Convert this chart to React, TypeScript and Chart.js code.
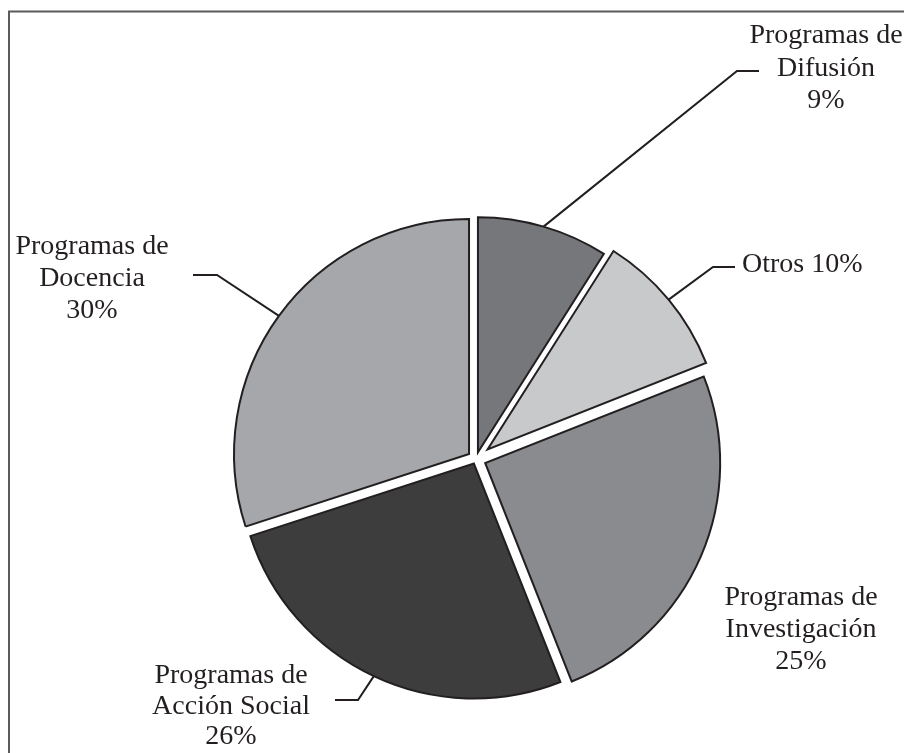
import React, { useEffect, useRef } from "react";
import { Chart, registerables } from "chart.js";

Chart.register(...registerables);

// ---- data ----
const CATEGORIES = [
  "Programas de Difusión",
  "Otros",
  "Programas de Investigación",
  "Programas de Acción Social",
  "Programas de Docencia",
];
const SHARES = [9, 10, 25, 26, 30];

// ---- styles ----
const SLICE_COLORS = ["#76777b", "#c8c9cb", "#8a8b8f", "#3d3d3e", "#a6a7ab"];
const EXPLODE = [7, 15, 10, 5, 8.6];
const INK = "#231f20";
const FONT = '28px "Liberation Serif", "Times New Roman", serif';

type LabelLayout = {
  x: number;
  y: number;
  lh: number;
  align: CanvasTextAlign;
  elbow?: [number, number];
  end?: [number, number];
};
const LABEL_LAYOUT: LabelLayout[] = [
  { x: 826, y: 43, lh: 32.5, align: "center", elbow: [737, 71], end: [759, 71] },
  { x: 742, y: 272, lh: 32, align: "left", elbow: [713, 267], end: [735, 267] },
  { x: 801, y: 605, lh: 32, align: "center" },
  { x: 231, y: 683, lh: 30.5, align: "center", elbow: [358, 700], end: [335, 700] },
  { x: 92, y: 254, lh: 32, align: "center", elbow: [217, 275], end: [193, 275] },
];

function labelLines(cat: string, v: number): string[] {
  const prefix = "Programas de ";
  if (cat.startsWith(prefix)) return ["Programas de", cat.slice(prefix.length), `${v}%`];
  return [`${cat} ${v}%`];
}

const explodePlugin = {
  id: "explode",
  afterDatasetsUpdate(chart: any) {
    const meta = chart.getDatasetMeta(0);
    meta.data.forEach((arc: any, i: number) => {
      const mid = (arc.startAngle + arc.endAngle) / 2;
      const d = EXPLODE[i] || 0;
      arc.x += Math.cos(mid) * d;
      arc.y += Math.sin(mid) * d;
    });
  },
};

const annotatePlugin = {
  id: "annotate",
  afterDraw(chart: any) {
    const ctx: CanvasRenderingContext2D = chart.ctx;
    ctx.save();
    // frame (top + left)
    ctx.strokeStyle = "#5b5b5b";
    ctx.lineWidth = 2;
    ctx.beginPath();
    ctx.moveTo(9, 753);
    ctx.lineTo(9, 11.5);
    ctx.lineTo(904, 11.5);
    ctx.stroke();

    const meta = chart.getDatasetMeta(0);
    meta.data.forEach((arc: any, i: number) => {
      const L = LABEL_LAYOUT[i];
      if (!L) return;
      if (L.elbow && L.end) {
        const mid = (arc.startAngle + arc.endAngle) / 2;
        const sx = arc.x + Math.cos(mid) * arc.outerRadius;
        const sy = arc.y + Math.sin(mid) * arc.outerRadius;
        ctx.strokeStyle = INK;
        ctx.lineWidth = 2;
        ctx.lineJoin = "miter";
        ctx.beginPath();
        ctx.moveTo(sx, sy);
        ctx.lineTo(L.elbow[0], L.elbow[1]);
        ctx.lineTo(L.end[0], L.end[1]);
        ctx.stroke();
      }
      ctx.fillStyle = INK;
      ctx.font = FONT;
      ctx.textAlign = L.align;
      ctx.textBaseline = "alphabetic";
      labelLines(CATEGORIES[i], SHARES[i]).forEach((t, k) => {
        ctx.fillText(t, L.x, L.y + k * L.lh);
      });
    });
    ctx.restore();
  },
};

export default function App() {
  const ref = useRef<HTMLCanvasElement>(null);
  useEffect(() => {
    if (!ref.current) return;
    const chart = new Chart(ref.current, {
      type: "pie",
      data: {
        labels: CATEGORIES,
        datasets: [
          {
            data: SHARES,
            backgroundColor: SLICE_COLORS,
            borderColor: INK,
            borderWidth: 2,
            borderJoinStyle: "miter",
            radius: 235,
          } as any,
        ],
      },
      options: {
        responsive: false,
        animation: false,
        events: [],
        layout: { padding: { left: 236, right: 188, top: 219, bottom: 54 } },
        plugins: {
          legend: { display: false },
          tooltip: { enabled: false },
        },
      },
      plugins: [explodePlugin, annotatePlugin],
    });
    return () => chart.destroy();
  }, []);
  return (
    <div style={{ position: "absolute", left: 0, top: 0, width: 904, height: 753, background: "#fff" }}>
      <canvas ref={ref} width={904} height={753} style={{ display: "block" }} />
    </div>
  );
}
